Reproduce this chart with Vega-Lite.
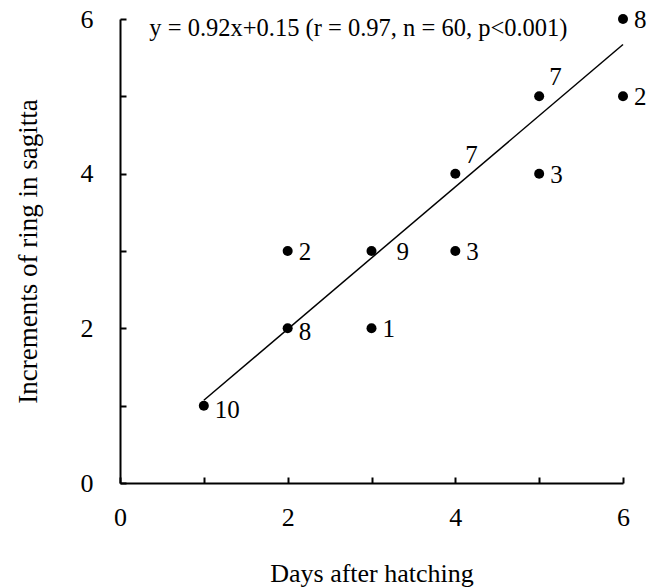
{
  "$schema": "https://vega.github.io/schema/vega-lite/v6.json",
  "autosize": {"type": "none"},
  "width": 503,
  "height": 464,
  "padding": {"left": 120, "top": 19, "right": 42, "bottom": 104},
  "background": "white",
  "config": {
    "font": "Liberation Serif",
    "view": {"stroke": null},
    "axis": {
      "grid": false,
      "domainColor": "black",
      "domainWidth": 2,
      "tickColor": "black",
      "tickWidth": 2,
      "tickSize": -6,
      "labelFontSize": 26,
      "labelColor": "black",
      "labelFont": "Liberation Serif",
      "titleFont": "Liberation Serif",
      "titleFontSize": 26,
      "titleFontWeight": "normal",
      "titleColor": "black"
    }
  },
  "datasets": {
    "points": [
      {"day": 1, "ring": 1, "n": 10},
      {"day": 2, "ring": 2, "n": 8},
      {"day": 2, "ring": 3, "n": 2},
      {"day": 3, "ring": 2, "n": 1},
      {"day": 3, "ring": 3, "n": 9},
      {"day": 4, "ring": 3, "n": 3},
      {"day": 4, "ring": 4, "n": 7},
      {"day": 5, "ring": 4, "n": 3},
      {"day": 5, "ring": 5, "n": 7},
      {"day": 6, "ring": 5, "n": 2},
      {"day": 6, "ring": 6, "n": 8}
    ],
    "fit": [
      {"day": 1, "ring": 1.07},
      {"day": 6, "ring": 5.67}
    ]
  },
  "layer": [
    {
      "data": {"name": "fit"},
      "mark": {"type": "line", "color": "black", "strokeWidth": 1.5},
      "encoding": {
        "x": {"field": "day", "type": "quantitative", "scale": {"domain": [0, 6], "nice": false}, "axis": {"values": [0, 1, 2, 3, 4, 5, 6], "format": "d", "labelExpr": "datum.value % 2 === 0 ? datum.label : ''", "title": "Days after hatching", "labelPadding": 27, "titlePadding": 30, "labelFlush": false}},
        "y": {"field": "ring", "type": "quantitative", "scale": {"domain": [0, 6], "nice": false}, "axis": {"values": [0, 1, 2, 3, 4, 5, 6], "format": "d", "labelExpr": "datum.value % 2 === 0 ? datum.label : ''", "title": "Increments of ring in sagitta", "titleFontSize": 27, "labelPadding": 33, "titlePadding": 38, "labelFlush": false}}
      }
    },
    {
      "data": {"name": "points"},
      "mark": {"type": "point", "filled": true, "color": "black", "size": 100, "opacity": 1},
      "encoding": {
        "x": {"field": "day", "type": "quantitative"},
        "y": {"field": "ring", "type": "quantitative"}
      }
    },
    {
      "data": {"name": "points"},
      "transform": [{"filter": "!(datum.day == 3 && datum.ring == 3) && !(datum.day == 4 && datum.ring == 4) && !(datum.day == 5 && datum.ring == 5) && !(datum.day == 1) && !(datum.day == 2 && datum.ring == 2)"}],
      "mark": {"type": "text", "align": "left", "baseline": "middle", "dx": 11, "dy": 1, "fontSize": 25, "font": "Liberation Serif", "color": "black"},
      "encoding": {
        "x": {"field": "day", "type": "quantitative"},
        "y": {"field": "ring", "type": "quantitative"},
        "text": {"field": "n", "type": "nominal"}
      }
    },
    {
      "data": {"name": "points"},
      "transform": [{"filter": "datum.day == datum.ring && datum.day <= 2"}],
      "mark": {"type": "text", "align": "left", "baseline": "middle", "dx": 11, "dy": 4, "fontSize": 25, "font": "Liberation Serif", "color": "black"},
      "encoding": {
        "x": {"field": "day", "type": "quantitative"},
        "y": {"field": "ring", "type": "quantitative"},
        "text": {"field": "n", "type": "nominal"}
      }
    },
    {
      "data": {"name": "points"},
      "transform": [{"filter": "datum.day == 3 && datum.ring == 3"}],
      "mark": {"type": "text", "align": "left", "baseline": "middle", "dx": 25, "dy": 1, "fontSize": 25, "font": "Liberation Serif", "color": "black"},
      "encoding": {
        "x": {"field": "day", "type": "quantitative"},
        "y": {"field": "ring", "type": "quantitative"},
        "text": {"field": "n", "type": "nominal"}
      }
    },
    {
      "data": {"name": "points"},
      "transform": [{"filter": "datum.day == datum.ring && (datum.day == 4 || datum.day == 5)"}],
      "mark": {"type": "text", "align": "left", "baseline": "middle", "dx": 10, "dy": -19, "fontSize": 25, "font": "Liberation Serif", "color": "black"},
      "encoding": {
        "x": {"field": "day", "type": "quantitative"},
        "y": {"field": "ring", "type": "quantitative"},
        "text": {"field": "n", "type": "nominal"}
      }
    },
    {
      "data": {"values": [{"label": "y = 0.92x+0.15 (r = 0.97, n = 60, p<0.001)"}]},
      "mark": {"type": "text", "align": "left", "baseline": "middle", "fontSize": 24.5, "font": "Liberation Serif", "color": "black"},
      "encoding": {
        "x": {"datum": 0.35, "type": "quantitative"},
        "y": {"datum": 5.87, "type": "quantitative"},
        "text": {"field": "label", "type": "nominal"}
      }
    }
  ]
}
